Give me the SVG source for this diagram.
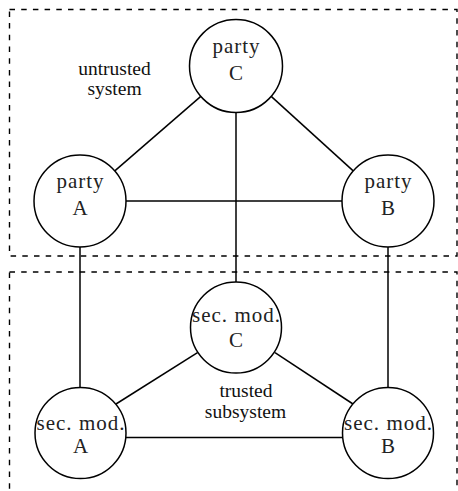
<svg xmlns="http://www.w3.org/2000/svg" width="458" height="491" viewBox="0 0 458 491">
<style>
.box{fill:none;stroke:#000;stroke-width:1.4;stroke-dasharray:5.5 6.2}
.node{fill:#fff;stroke:#000;stroke-width:1.5}
.edge{stroke:#000;stroke-width:1.5;fill:none}
.t{font-family:"Liberation Serif","Times New Roman",serif;font-size:21px;fill:#222;text-anchor:middle}
.lbl{font-family:"Liberation Serif","Times New Roman",serif;font-size:19.5px;fill:#111;text-anchor:middle}
</style>
<rect width="458" height="491" fill="#fff"/>
<g id="regions">
<rect class="box" x="9.5" y="9.5" width="447.5" height="246.5"/>
<rect class="box" x="9.5" y="272" width="447.5" height="240"/>
<text class="lbl" x="114.5" y="75">untrusted</text>
<text class="lbl" x="114.5" y="94.5">system</text>
<text class="lbl" x="246" y="397">trusted</text>
<text class="lbl" x="245.5" y="418">subsystem</text>
</g>
<g id="connectors">
<line class="edge" x1="200.8" y1="96.4" x2="114.8" y2="170.9"/>
<line class="edge" x1="271.2" y1="96.4" x2="353.2" y2="170.9"/>
<line class="edge" x1="126" y1="201" x2="342" y2="201"/>
<line class="edge" x1="236" y1="112.5" x2="236" y2="282.5"/>
<line class="edge" x1="80" y1="247" x2="80" y2="387.5"/>
<line class="edge" x1="388" y1="247" x2="388" y2="387.5"/>
<line class="edge" x1="197.5" y1="352.7" x2="116" y2="404"/>
<line class="edge" x1="275" y1="352.7" x2="353" y2="404"/>
<line class="edge" x1="125.8" y1="437.5" x2="342.2" y2="437.5"/>
</g>
<g id="partyC">
<circle class="node" cx="236" cy="66" r="46.5"/>
<text class="t" x="236" y="53" textLength="47" lengthAdjust="spacing">party</text>
<text class="t" x="236" y="79.5">C</text>
</g>
<g id="partyA">
<circle class="node" cx="80" cy="201" r="46"/>
<text class="t" x="80" y="188" textLength="47" lengthAdjust="spacing">party</text>
<text class="t" x="80" y="214.5">A</text>
</g>
<g id="partyB">
<circle class="node" cx="388" cy="201" r="46"/>
<text class="t" x="388" y="188" textLength="47" lengthAdjust="spacing">party</text>
<text class="t" x="388" y="214.5">B</text>
</g>
<g id="secC">
<circle class="node" cx="236" cy="327.5" r="45.5"/>
<text class="t" x="236" y="321.5" textLength="88" lengthAdjust="spacing">sec. mod.</text>
<text class="t" x="236" y="346.5">C</text>
</g>
<g id="secA">
<circle class="node" cx="80.5" cy="433" r="45.5"/>
<text class="t" x="80.5" y="430" textLength="88" lengthAdjust="spacing">sec. mod.</text>
<text class="t" x="80.5" y="452.5">A</text>
</g>
<g id="secB">
<circle class="node" cx="388" cy="433" r="45.5"/>
<text class="t" x="388" y="430" textLength="88" lengthAdjust="spacing">sec. mod.</text>
<text class="t" x="388" y="452.5">B</text>
</g>
</svg>
